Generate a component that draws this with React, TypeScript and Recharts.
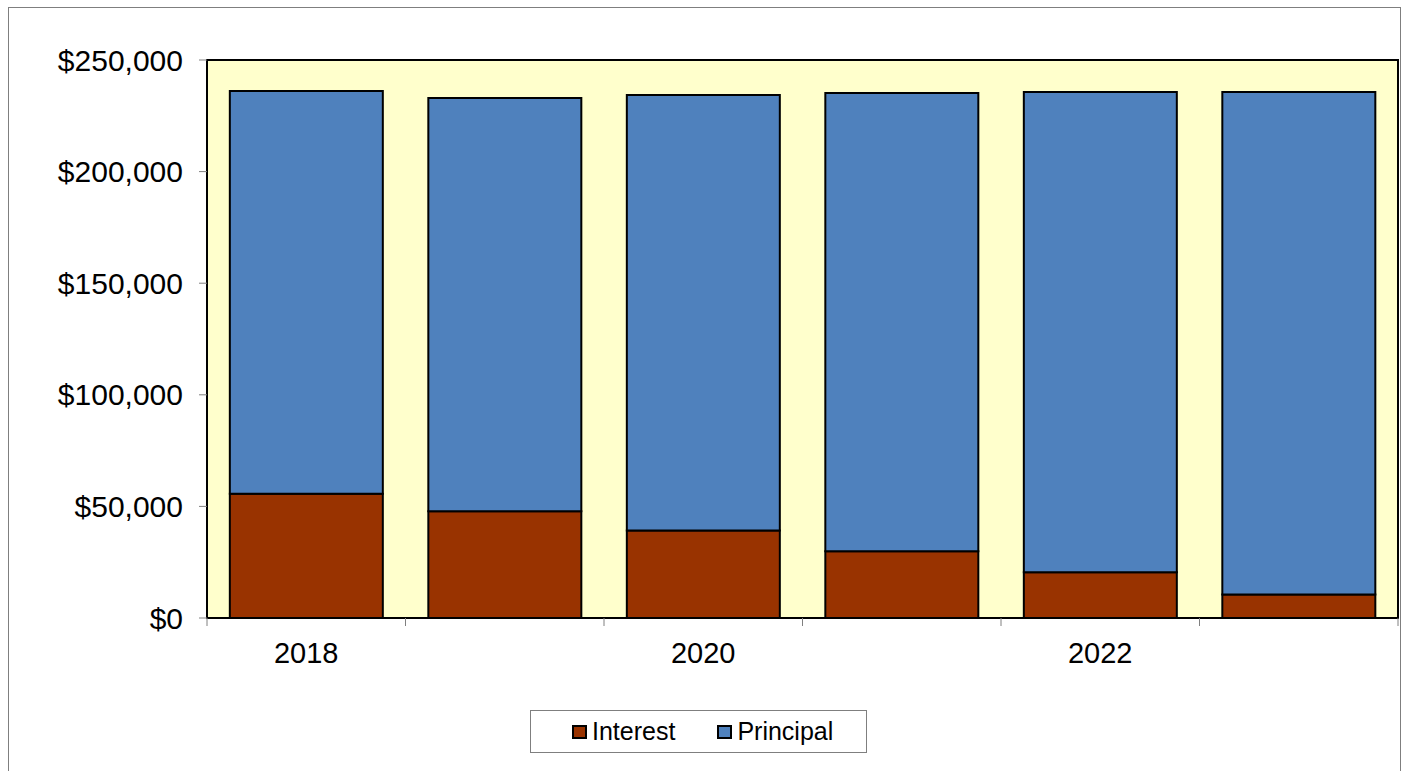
import { BarChart, Bar, XAxis, YAxis, CartesianGrid, ReferenceArea, Legend } from "recharts";

// Loan repayment split per year
const years = ["2018", "2019", "2020", "2021", "2022", "2023"];
const interest = [55700, 47800, 39200, 29900, 20500, 10500];
const principal = [180400, 185200, 195100, 205300, 215200, 225200];
const yTicks = [0, 50000, 100000, 150000, 200000, 250000];

const data = years.map((year, i) => ({ year, interest: interest[i], principal: principal[i] }));

const CHART_W = 1391;
const CHART_H = 761;
const MARGIN = { top: 51, right: 2, left: 0, bottom: 92 };
const Y_AXIS_W = 198;
const PLOT_W = CHART_W - MARGIN.left - MARGIN.right - Y_AXIS_W;
const BAND = PLOT_W / years.length;

const FONT = "'Liberation Sans', Arial, sans-serif";
const TICK_GRAY = "#808080";

const money = (v: number) => "$" + v.toLocaleString("en-US");

// ticks sit on the category boundaries, labels on every other year
function YearTick(props: any) {
  const { x, y, payload, index } = props;
  const left = x - BAND / 2;
  return (
    <g>
      <line x1={left} x2={left} y1={y - 8} y2={y} stroke={TICK_GRAY} strokeWidth={1} />
      {index === years.length - 1 && (
        <line x1={x + BAND / 2} x2={x + BAND / 2} y1={y - 8} y2={y} stroke={TICK_GRAY} strokeWidth={1} />
      )}
      {index % 2 === 0 && (
        <text x={x} y={y + 37} textAnchor="middle" fontSize={29} fill="#000" fontFamily={FONT}>
          {payload.value}
        </text>
      )}
    </g>
  );
}

const legendItems = [
  { label: "Interest", color: "#993300" },
  { label: "Principal", color: "#4F81BD" },
];

function LegendBox() {
  return (
    <div
      style={{
        boxSizing: "border-box",
        width: 337,
        height: 43,
        border: "1px solid #7f7f7f",
        background: "#fff",
        display: "flex",
        alignItems: "center",
        paddingLeft: 41,
        fontFamily: FONT,
        fontSize: 25,
        color: "#000",
      }}
    >
      {legendItems.map((item, i) => (
        <div key={item.label} style={{ display: "flex", alignItems: "center", marginLeft: i === 0 ? 0 : 42 }}>
          <span
            style={{
              boxSizing: "border-box",
              width: 15,
              height: 14,
              border: "2px solid #000",
              background: item.color,
              marginRight: 5,
            }}
          />
          <span>{item.label}</span>
        </div>
      ))}
    </div>
  );
}

export default function App() {
  return (
    <div
      style={{
        position: "fixed",
        top: 7,
        left: 8,
        width: CHART_W,
        height: 770 - 7,
        borderTop: "1px solid #7f7f7f",
        borderLeft: "1px solid #7f7f7f",
        borderRight: "1px solid #7f7f7f",
        background: "#fff",
        overflow: "hidden",
      }}
    >
      <div style={{ marginTop: 1 }}>
        <BarChart width={CHART_W} height={CHART_H} data={data} margin={MARGIN} barCategoryGap="11.5%">
          <CartesianGrid horizontal={false} vertical={false} fill="#FFFFCC" fillOpacity={1} />
          <XAxis
            dataKey="year"
            interval={0}
            height={60}
            axisLine={false}
            tickLine={false}
            tickSize={8}
            tickMargin={0}
            tick={<YearTick />}
          />
          <YAxis
            width={Y_AXIS_W}
            domain={[0, 250000]}
            ticks={yTicks}
            tickFormatter={money}
            axisLine={false}
            tickLine={{ stroke: TICK_GRAY, strokeWidth: 1 }}
            tickSize={8}
            tickMargin={16}
            tick={{ fontSize: 30, fill: "#000", fontFamily: FONT }}
          />
          <Bar dataKey="interest" name="Interest" stackId="a" fill="#993300" stroke="#000" strokeWidth={2} isAnimationActive={false} />
          <Bar dataKey="principal" name="Principal" stackId="a" fill="#4F81BD" stroke="#000" strokeWidth={2} isAnimationActive={false} />
          {/* plot frame */}
          <ReferenceArea y1={0} y2={250000} fill="none" fillOpacity={0} stroke="#000" strokeWidth={2} />
          <Legend
            layout="horizontal"
            verticalAlign="middle"
            align="center"
            wrapperStyle={{ left: 521, top: 701, width: 337 }}
            content={<LegendBox />}
          />
        </BarChart>
      </div>
    </div>
  );
}
